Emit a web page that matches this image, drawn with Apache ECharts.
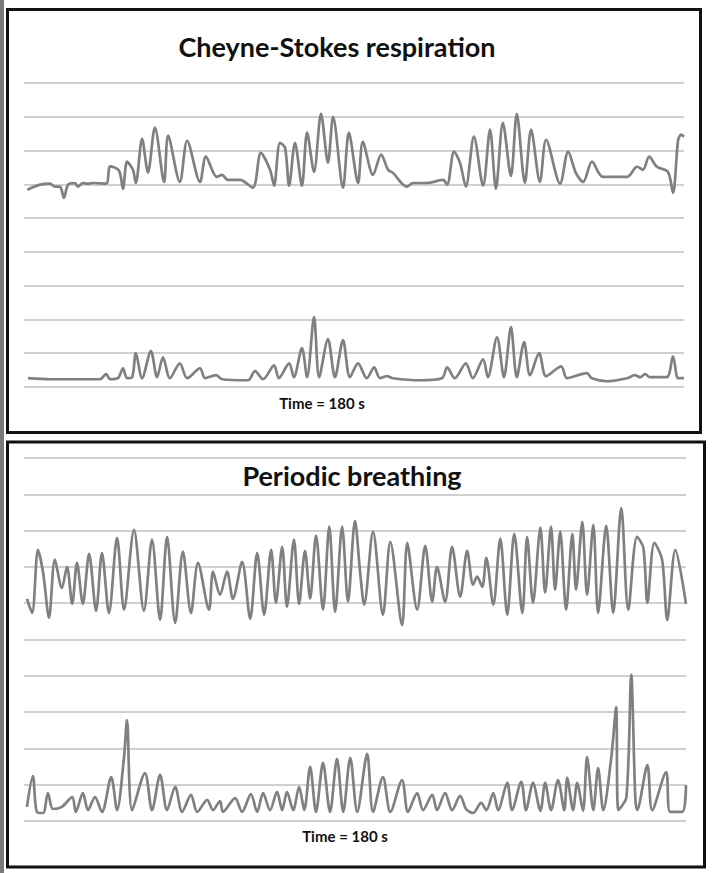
<!DOCTYPE html>
<html>
<head>
<meta charset="utf-8">
<script src="https://cdn.jsdelivr.net/npm/echarts@6/dist/echarts.min.js"></script>
<style>
html,body{margin:0;padding:0;background:#fff;}
#chart{width:720px;height:873px;}
</style>
</head>
<body>
<div id="chart"></div>
<script>
// ---- Data (time in seconds, 0..180; amplitude in grid units) ----
const titleTop = "Cheyne-Stokes respiration";
const titleBottom = "Periodic breathing";
const timeLabel = "Time = 180 s";

// Cheyne-Stokes, upper trace
const csUpperT = [0.9,4.4,7.1,8.5,9.8,10.9,12.0,13.9,14.7,16.1,17.5,18.8,22.4,23.5,25.9,27.0,28.1,29.7,30.5,32.2,33.8,35.7,38.2,39.3,42.5,44.5,48.0,49.6,52.6,54.0,55.6,58.9,62.4,64.6,67.1,68.2,69.8,71.2,72.3,73.9,75.8,77.2,79.1,81.0,82.9,84.3,87.0,88.6,91.1,92.4,95.2,97.4,99.3,100.6,104.4,106.1,109.9,114.3,115.4,117.3,118.9,120.5,122.7,125.2,127.1,128.7,130.6,132.8,134.4,136.6,138.3,140.7,142.4,146.2,148.4,150.5,152.5,154.9,157.9,164.5,167.2,168.8,170.5,172.6,175.6,177.0,178.4,179.2,180.0];
const csUpperV = [5.84,5.99,6.02,5.93,5.93,5.60,5.99,6.04,5.93,6.04,6.02,6.04,6.02,6.53,6.41,5.87,6.67,6.43,6.04,7.35,6.35,7.68,6.07,7.44,6.07,7.29,6.07,6.82,6.22,6.28,6.13,6.13,5.90,6.93,6.43,5.96,7.23,7.08,5.96,7.23,5.96,7.53,6.37,8.09,6.64,8.00,5.90,7.53,6.04,7.26,6.28,6.88,6.43,6.34,5.93,6.04,6.04,6.13,5.99,6.97,6.64,5.93,7.41,5.96,7.62,5.87,7.82,6.25,8.09,6.04,7.62,6.07,7.32,6.02,6.97,6.34,6.07,6.67,6.22,6.22,6.52,6.43,6.82,6.52,6.37,5.75,7.32,7.47,7.41];

// Cheyne-Stokes, lower trace
const csLowerT = [1.1,7.1,20.7,22.4,23.5,25.6,27.0,28.1,29.5,30.5,32.2,34.6,36.3,37.9,39.8,42.5,44.5,48.0,49.4,52.4,54.0,61.1,63.0,65.2,68.2,69.5,72.3,73.6,75.8,77.2,79.1,80.5,82.9,84.8,87.0,88.9,91.1,93.5,95.5,97.1,99.0,100.6,108.0,114.0,115.4,117.5,120.5,122.4,125.2,126.5,129.0,130.9,132.8,134.4,136.4,138.0,140.5,142.4,146.5,148.1,153.5,154.9,159.0,164.5,166.6,168.0,169.4,170.7,175.3,177.0,178.4,180.0];
const csLowerV = [0.26,0.23,0.23,0.38,0.23,0.26,0.55,0.26,0.29,1.00,0.26,1.06,0.29,0.88,0.26,0.70,0.26,0.55,0.26,0.35,0.23,0.20,0.47,0.23,0.64,0.26,0.70,0.29,1.15,0.29,2.07,0.29,1.42,0.29,1.39,0.29,0.70,0.26,0.58,0.26,0.32,0.26,0.20,0.26,0.58,0.26,0.70,0.26,0.82,0.29,1.47,0.29,1.77,0.29,1.33,0.35,1.00,0.32,0.61,0.26,0.41,0.26,0.17,0.26,0.35,0.29,0.38,0.29,0.29,0.91,0.26,0.26];

// Periodic breathing, upper trace
const pbUpperT = [0.8,2.2,3.8,5.2,6.8,8.4,10.3,11.7,13.1,14.4,16.0,17.7,19.6,21.2,23.1,25.3,27.2,29.9,32.6,34.8,37.0,38.9,41.1,43.2,45.4,47.3,50.3,51.4,53.3,55.2,56.8,59.3,61.5,63.4,65.3,67.2,68.5,70.2,71.5,73.4,74.8,76.4,77.8,79.4,81.3,83.0,84.6,86.5,88.1,90.0,91.4,92.5,94.9,97.6,99.6,102.8,104.2,106.9,109.1,111.0,112.3,114.5,116.4,118.6,120.5,122.1,123.2,124.6,125.7,127.6,129.5,131.4,133.3,135.5,136.8,138.4,140.4,141.7,143.3,144.4,145.8,147.4,149.1,150.1,151.8,153.1,154.8,156.1,158.3,160.2,162.4,164.3,166.7,168.4,169.5,171.4,173.5,174.9,177.1,180.0];
const pbUpperV = [6.12,5.73,7.47,6.84,5.60,7.20,6.42,7.00,5.98,7.11,5.98,7.36,5.79,7.39,5.73,7.80,5.82,8.02,5.79,7.75,5.54,7.83,5.46,7.42,5.73,7.11,5.82,6.87,6.23,6.87,6.12,7.14,5.57,7.39,5.68,7.47,6.01,7.55,5.90,7.75,5.98,7.44,6.13,7.86,5.82,8.11,5.76,8.11,6.04,8.27,6.84,5.96,7.97,5.68,7.69,5.40,7.66,5.82,7.58,6.04,7.00,6.04,7.55,6.18,7.44,6.51,6.73,6.45,7.25,5.96,7.78,5.68,7.91,5.73,7.83,6.01,8.08,6.29,8.11,6.37,7.97,5.82,7.91,6.37,8.24,6.23,8.16,5.73,8.13,5.73,8.63,5.82,7.83,7.53,6.01,7.66,7.20,5.54,7.47,5.98];

// Periodic breathing, lower trace
const pbLowerT = [0.8,2.4,3.5,5.2,6.5,7.9,10.3,13.1,14.1,16.0,17.4,19.3,21.2,23.7,25.3,27.2,28.0,29.4,32.9,34.8,37.0,38.9,41.1,43.0,45.4,47.1,49.8,51.4,53.3,54.1,57.4,59.3,61.7,63.4,65.0,66.9,68.8,70.2,71.5,73.2,74.8,76.2,77.8,79.4,81.3,83.2,85.1,86.8,88.7,90.6,93.3,94.9,97.6,99.6,102.8,104.4,106.9,108.5,111.0,112.3,114.5,116.4,118.6,120.2,122.1,124.3,125.7,127.6,128.9,131.4,132.7,135.2,136.5,138.4,140.4,141.7,143.3,145.2,146.9,147.7,149.3,150.4,152.0,153.1,154.8,156.1,157.5,159.7,161.0,161.6,163.8,165.1,166.2,166.7,169.5,170.8,174.6,175.7,179.0,180.0];
const pbLowerV = [0.39,1.24,0.25,0.22,0.77,0.33,0.39,0.66,0.25,0.77,0.30,0.66,0.25,1.21,0.30,1.76,2.78,0.30,1.32,0.30,1.27,0.30,0.94,0.25,0.72,0.25,0.58,0.30,0.55,0.25,0.63,0.25,0.74,0.25,0.77,0.30,0.80,0.30,0.80,0.30,0.94,0.30,1.49,0.25,1.60,0.25,1.71,0.25,1.74,0.25,1.85,0.25,1.21,0.25,1.13,0.25,0.77,0.30,0.72,0.30,0.77,0.30,0.69,0.33,0.22,0.50,0.30,0.77,0.30,1.05,0.30,1.08,0.30,1.05,0.28,1.05,0.30,1.13,0.30,1.19,0.30,1.05,0.28,1.76,0.30,1.46,0.30,1.76,3.14,0.30,0.66,4.03,0.66,0.30,1.54,0.30,1.35,0.25,0.25,0.99];

const zip = (t, v) => t.map((x, i) => [x, v[i]]);

const chart = echarts.init(document.getElementById('chart'), null, {renderer: 'svg'});

const lineStyle = {color: '#808080', width: 2.7};
const splitStyle = {lineStyle: {color: '#d0d0d0', width: 2}};

const option = {
  backgroundColor: '#ffffff',
  animation: false,
  grid: [
    {left: 24, right: 36, top: 83, height: 304},
    {left: 24, right: 34, top: 458, height: 363}
  ],
  xAxis: [
    {type: 'value', gridIndex: 0, min: 0, max: 180, show: false},
    {type: 'value', gridIndex: 1, min: 0, max: 180, show: false}
  ],
  yAxis: [
    {type: 'value', gridIndex: 0, min: 0, max: 9, interval: 1,
     axisLine: {show: false}, axisTick: {show: false}, axisLabel: {show: false}, splitLine: splitStyle},
    {type: 'value', gridIndex: 1, min: 0, max: 10, interval: 1,
     axisLine: {show: false}, axisTick: {show: false}, axisLabel: {show: false}, splitLine: splitStyle}
  ],
  series: [
    {type: 'line', xAxisIndex: 0, yAxisIndex: 0, data: zip(csUpperT, csUpperV), showSymbol: false, smooth: 0.3, lineStyle: lineStyle},
    {type: 'line', xAxisIndex: 0, yAxisIndex: 0, data: zip(csLowerT, csLowerV), showSymbol: false, smooth: 0.3, lineStyle: lineStyle},
    {type: 'line', xAxisIndex: 1, yAxisIndex: 1, data: zip(pbUpperT, pbUpperV), showSymbol: false, smooth: 0.3, lineStyle: lineStyle},
    {type: 'line', xAxisIndex: 1, yAxisIndex: 1, data: zip(pbLowerT, pbLowerV), showSymbol: false, smooth: 0.3, lineStyle: lineStyle}
  ],
  graphic: [
    {type: 'rect', shape: {x: 0, y: 0, width: 4, height: 873}, style: {fill: '#7a7a7a'}, z: 10},
    {type: 'rect', shape: {x: 7.5, y: 9.5, width: 693, height: 423}, style: {fill: 'none', stroke: '#111', lineWidth: 3}, z: 10},
    {type: 'rect', shape: {x: 7.5, y: 442, width: 697, height: 425}, style: {fill: 'none', stroke: '#111', lineWidth: 3}, z: 10},
    {type: 'text', x: 337, y: 46, style: {text: titleTop, font: 'bold 27px Lato, "Open Sans", sans-serif', fill: '#111', align: 'center', verticalAlign: 'middle'}, z: 10},
    {type: 'text', x: 352, y: 475, style: {text: titleBottom, font: 'bold 27px Lato, "Open Sans", sans-serif', fill: '#111', align: 'center', verticalAlign: 'middle'}, z: 10},
    {type: 'text', x: 322, y: 403, style: {text: timeLabel, font: 'bold 15px Lato, "Open Sans", sans-serif', fill: '#111', align: 'center', verticalAlign: 'middle'}, z: 10},
    {type: 'text', x: 345, y: 836, style: {text: timeLabel, font: 'bold 15px Lato, "Open Sans", sans-serif', fill: '#111', align: 'center', verticalAlign: 'middle'}, z: 10}
  ]
};
chart.setOption(option);
</script>
</body>
</html>
